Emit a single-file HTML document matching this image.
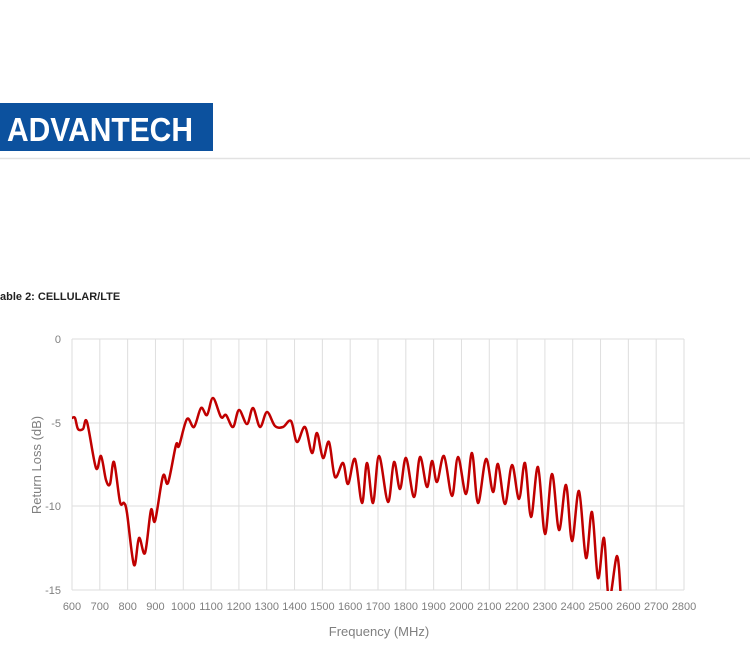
<!DOCTYPE html>
<html><head><meta charset="utf-8"><style>
body{margin:0;width:750px;height:650px;background:#fff;overflow:hidden;font-family:"Liberation Sans",sans-serif;}
</style></head><body>
<svg width="750" height="650" xmlns="http://www.w3.org/2000/svg" style="position:absolute;left:0;top:0">
<rect x="0" y="103" width="213" height="48" fill="#0c519e"/>
<text x="7" y="141" fill="#fff" font-family="Liberation Sans,sans-serif" font-weight="bold" font-size="33" textLength="186" lengthAdjust="spacingAndGlyphs">ADVANTECH</text>
<line x1="0" y1="158.5" x2="750" y2="158.5" stroke="#e2e2e2" stroke-width="1.5"/>
<text x="0" y="300" font-size="11" font-weight="bold" fill="#222">able 2: CELLULAR/LTE</text>
<g id="grid" stroke="#dedede" stroke-width="1"></g>
<g font-size="11" fill="#7f7f7f" font-family="Liberation Sans,sans-serif">
<text x="61" y="343" text-anchor="end">0</text>
<text x="61" y="427" text-anchor="end">-5</text>
<text x="61" y="510" text-anchor="end">-10</text>
<text x="61" y="594" text-anchor="end">-15</text>
<g id="xl" text-anchor="middle"></g>
</g>
<text transform="translate(41,465) rotate(-90)" text-anchor="middle" font-size="13" fill="#7f7f7f">Return Loss (dB)</text>
<text x="379" y="636" text-anchor="middle" font-size="13" fill="#7f7f7f">Frequency (MHz)</text>
<clipPath id="c"><rect x="60" y="330" width="640" height="261"/></clipPath>
<path id="curve" clip-path="url(#c)" fill="none" stroke="#c00000" stroke-width="2.5" stroke-linejoin="round"/>
</svg>
<script>
var ns="http://www.w3.org/2000/svg",g=document.getElementById('grid'),xl=document.getElementById('xl');
function ln(a,b,c,d){var l=document.createElementNS(ns,'line');l.setAttribute('x1',a);l.setAttribute('y1',b);l.setAttribute('x2',c);l.setAttribute('y2',d);g.appendChild(l);}
for(var i=0;i<=22;i++){var x=72+i*612/22;ln(x,339,x,590);var t=document.createElementNS(ns,'text');t.setAttribute('x',x);t.setAttribute('y',610);t.textContent=600+i*100;xl.appendChild(t);}
[339,423,506,590].forEach(function(y){ln(72,y,684,y);});
var p=[[72,418],[75,418],[78,429],[83,429],[87,422],[96,468],[101,456],[106,480],[110,484],[114,462],[120,502],[124,503],[127,513],[134,565],[139,538],[145,553],[151,510],[155,521],[163,476],[168,483],[176,445],[179,446],[187,419],[194,427],[201,408],[207,415],[213,398],[221,417],[226,415],[233,427],[239,410],[247,424],[253,408],[260,427],[267,412],[275,426],[283,427],[291,421],[297,442],[305,427],[312,453],[317,433],[323,458],[329,442],[335,477],[343,463],[348,484],[355,459],[362,503],[367,463],[373,503],[379,456],[388,502],[394,462],[400,489],[406,458],[414,497],[420,457],[427,487],[432,461],[437,482],[444,456],[452,496],[458,457],[466,494],[472,453],[478,503],[486,459],[493,492],[498,464],[505,504],[512,465],[519,499],[525,463],[531,517],[538,467],[545,534],[552,474],[559,530],[566,485],[572,541],[579,491],[586,558],[592,512],[598,578],[604,538],[609,600],[617,556],[621,600]];
var d="M"+p[0];
for(var i=0;i<p.length-1;i++){var a=p[Math.max(0,i-1)],b=p[i],c=p[i+1],e=p[Math.min(p.length-1,i+2)];
d+=" C"+(b[0]+(c[0]-a[0])/6)+","+(b[1]+(c[1]-a[1])/6)+" "+(c[0]-(e[0]-b[0])/6)+","+(c[1]-(e[1]-b[1])/6)+" "+c[0]+","+c[1];}
document.getElementById('curve').setAttribute('d',d);
</script>
</body></html>
